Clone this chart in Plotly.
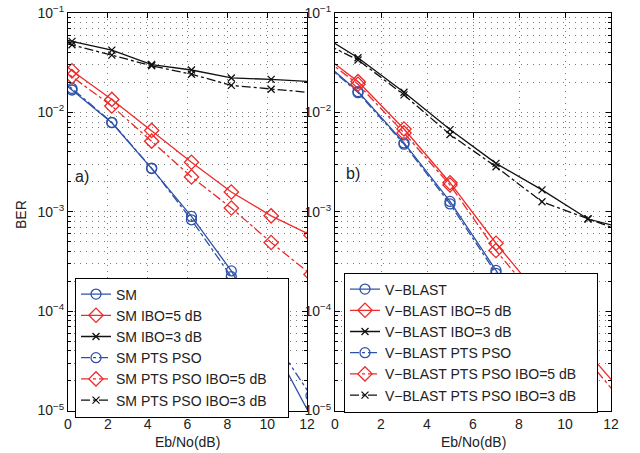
import plotly.graph_objects as go

# ---------------- data ----------------
# panel a) SM
x_a = [-1.8, 0.2, 2.2, 4.2, 6.2, 8.2, 10.2, 12.2]
sm = [0.0347, 0.0168, 0.00787, 0.00272, 0.000897, 0.000254, 4.9e-5, 8.7e-6]
sm_ibo5 = [0.0575, 0.0262, 0.0135, 0.00658, 0.00315, 0.00158, 0.00091, 0.00058]
sm_ibo3 = [0.0646, 0.0518, 0.0423, 0.0303, 0.0267, 0.0222, 0.0215, 0.0204]
sm_pts = [0.0363, 0.0174, 0.00794, 0.00275, 0.00083, 0.000222, 5.6e-5, 1.41e-5]
sm_pts_ibo5 = [0.0468, 0.0229, 0.0116, 0.00513, 0.00224, 0.00109, 0.00049, 0.000234]
sm_pts_ibo3 = [0.0603, 0.0479, 0.0377, 0.0294, 0.0242, 0.0187, 0.0171, 0.0158]

# panel b) V-BLAST
x_b = [-1, 1, 3, 5, 7, 9, 11, 13]
vb = [0.0407, 0.0162, 0.00493, 0.00127, 0.000257, 5.0e-5, 9.3e-6, 1.8e-6]
vb_ibo5 = [0.0461, 0.0204, 0.00681, 0.00196, 0.000482, 0.000132, 3.8e-5, 1.12e-5]
vb_ibo3 = [0.0685, 0.0355, 0.01596, 0.00671, 0.00307, 0.00166, 0.000845, 0.000646]
vb_pts = [0.0400, 0.0158, 0.00479, 0.0012, 0.00024, 4.7e-5, 8.9e-6, 1.7e-6]
vb_pts_ibo5 = [0.0434, 0.0192, 0.00621, 0.00186, 0.000407, 0.000112, 3.16e-5, 8.9e-6]
vb_pts_ibo3 = [0.0574, 0.0337, 0.0150, 0.00598, 0.00284, 0.00126, 0.00085, 0.000575]

y_tickvals = [1e-5, 1e-4, 1e-3, 1e-2, 1e-1]
y_ticktext = ["10<sup>−5</sup>", "10<sup>−4</sup>", "10<sup>−3</sup>", "10<sup>−2</sup>", "10<sup>−1</sup>"]
x_tickvals = [0, 2, 4, 6, 8, 10, 12]

# ---------------- style ----------------
BLUE = "#2f52a8"
RED = "#ee2a2a"
BLACK = "#111111"
FONT = "Liberation Sans, Arial, sans-serif"
GRID = "#7a7a7a"
GDASH = "1px,5px"
PAD = "\u00a0" * 4

W, H = 640, 453
def px_x(p):
    return p / W
def px_y(p):
    return 1 - p / H

fig = go.Figure()

def add(x, y, name, color, symbol, dash, xa, ya, legend):
    size = 10 if symbol == "circle-open" else (11 if symbol == "diamond-open" else 7)
    fig.add_trace(go.Scatter(
        x=x, y=y, name=name + PAD, mode="lines+markers",
        line=dict(color=color, width=1.3, dash=dash),
        marker=dict(symbol=symbol, size=size, color=color,
                    line=dict(color=color, width=1.3)),
        xaxis=xa, yaxis=ya, legend=legend, cliponaxis=True,
    ))

series_a = [
    ("SM", sm, BLUE, "circle-open", "solid"),
    ("SM IBO=5 dB", sm_ibo5, RED, "diamond-open", "solid"),
    ("SM IBO=3 dB", sm_ibo3, BLACK, "x-thin-open", "solid"),
    ("SM PTS PSO", sm_pts, BLUE, "circle-open", "dashdot"),
    ("SM PTS PSO IBO=5 dB", sm_pts_ibo5, RED, "diamond-open", "dashdot"),
    ("SM PTS PSO IBO=3 dB", sm_pts_ibo3, BLACK, "x-thin-open", "dashdot"),
]
series_b = [
    ("V−BLAST", vb, BLUE, "circle-open", "solid"),
    ("V−BLAST IBO=5 dB", vb_ibo5, RED, "diamond-open", "solid"),
    ("V−BLAST IBO=3 dB", vb_ibo3, BLACK, "x-thin-open", "solid"),
    ("V−BLAST PTS PSO", vb_pts, BLUE, "circle-open", "dashdot"),
    ("V−BLAST PTS PSO IBO=5 dB", vb_pts_ibo5, RED, "diamond-open", "dashdot"),
    ("V−BLAST PTS PSO IBO=3 dB", vb_pts_ibo3, BLACK, "x-thin-open", "dashdot"),
]
for name, y, c, s, d in series_a:
    add(x_a, y, name, c, s, d, "x", "y", "legend")
for name, y, c, s, d in series_b:
    add(x_b, y, name, c, s, d, "x2", "y2", "legend2")

minor_vals = [m * 10 ** e for e in range(-5, -1) for m in range(2, 10)]

def xaxis(domain, anchor):
    return dict(domain=domain, anchor=anchor, range=[0, 12], tickvals=x_tickvals,
                ticks="inside", ticklen=5, tickcolor="black", automargin=False,
                showline=True, linecolor="black", linewidth=1, mirror="ticks",
                showgrid=True, gridcolor=GRID, griddash=GDASH, gridwidth=1,
                zeroline=False, tickfont=dict(size=14, color="#222"),
                ticklabelstandoff=1)

def yaxis(domain, anchor):
    return dict(domain=domain, anchor=anchor, type="log", range=[-5, -1],
                tickvals=y_tickvals, ticktext=y_ticktext, automargin=False,
                ticks="inside", ticklen=5, tickcolor="black",
                showline=True, linecolor="black", linewidth=1, mirror="ticks",
                showgrid=True, gridcolor=GRID, griddash=GDASH, gridwidth=1,
                minor=dict(tickvals=minor_vals, ticks="inside", ticklen=3, tickcolor="black",
                           showgrid=True, gridcolor=GRID, griddash=GDASH, gridwidth=1),
                zeroline=False, tickfont=dict(size=14, color="#222"))

ydom = [px_y(410.5), px_y(13)]
legend_common = dict(xanchor="left", yanchor="top", bgcolor="white",
                     bordercolor="black", borderwidth=1,
                     font=dict(size=14, color="#222"), tracegroupgap=0, itemwidth=30)
fig.update_layout(
    width=W, height=H, margin=dict(l=0, r=0, t=0, b=0, autoexpand=False),
    paper_bgcolor="white", plot_bgcolor="white",
    font=dict(family=FONT, size=14, color="#222"),
    xaxis=xaxis([px_x(68), px_x(307)], "y"),
    yaxis=yaxis(ydom, "x"),
    xaxis2=xaxis([px_x(335), px_x(611)], "y2"),
    yaxis2=yaxis(ydom, "x2"),
    legend=dict(x=px_x(75), y=px_y(277.5), **legend_common),
    legend2=dict(x=px_x(344), y=px_y(272.5), **legend_common),
    showlegend=True,
    annotations=[
        dict(text="a)", x=px_x(73), y=px_y(176), xref="paper", yref="paper",
             xanchor="left", yanchor="middle", showarrow=False, font=dict(size=16)),
        dict(text="b)", x=px_x(344), y=px_y(174), xref="paper", yref="paper",
             xanchor="left", yanchor="middle", showarrow=False, font=dict(size=16)),
        dict(text="BER", x=px_x(21), y=px_y(215), xref="paper", yref="paper",
             xanchor="center", yanchor="middle", showarrow=False, textangle=-90,
             font=dict(size=14)),
        dict(text="Eb/No(dB)", x=px_x(187.5), y=px_y(442), xref="paper", yref="paper",
             xanchor="center", yanchor="middle", showarrow=False, font=dict(size=14)),
        dict(text="Eb/No(dB)", x=px_x(473), y=px_y(442), xref="paper", yref="paper",
             xanchor="center", yanchor="middle", showarrow=False, font=dict(size=14)),
    ],
)

fig.write_html("out.html", config={"displayModeBar": False},
               post_script="document.body.style.margin='0';document.body.style.padding='0';")
